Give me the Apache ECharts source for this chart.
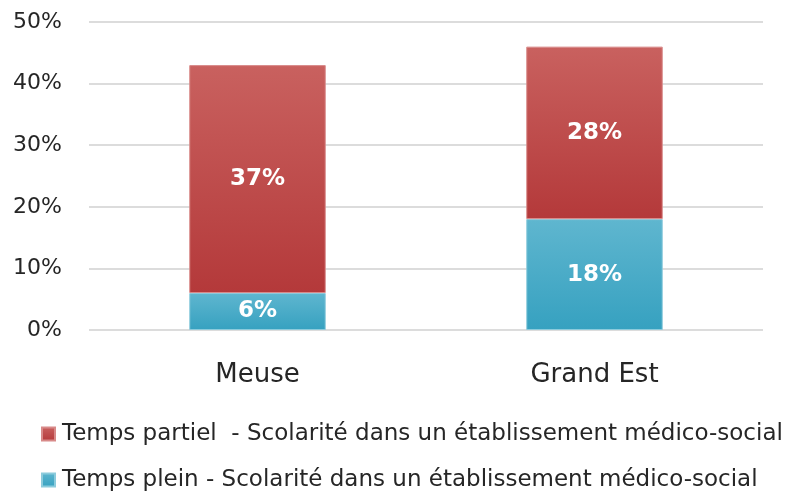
<!DOCTYPE html>
<html>
<head>
<meta charset="utf-8">
<script src="https://cdn.jsdelivr.net/npm/echarts@6/dist/echarts.min.js"></script>
<style>
html,body{margin:0;padding:0;background:#fff;}
#chart{width:792px;height:495px;}
</style>
</head>
<body>
<div id="chart"></div>
<script>
var categories = ['Meuse', 'Grand Est'];
var tempsPlein = [6, 18];
var tempsPartiel = [37, 28];
var nomPlein = 'Temps plein - Scolarité dans un établissement médico-social';
var nomPartiel = 'Temps partiel  - Scolarité dans un établissement médico-social';
var yTicks = [0, 10, 20, 30, 40, 50];

var police = 'DejaVu Sans';

function degrade(haut, bas) {
	return new echarts.graphic.LinearGradient(0, 0, 0, 1, [
		{offset: 0, color: haut},
		{offset: 1, color: bas}
	]);
}

var etiquette = {
	show: true,
	position: 'inside',
	color: '#fff',
	fontFamily: police,
	fontWeight: 'bold',
	fontSize: 23,
	formatter: '{c}%'
};

var option = {
	animation: false,
	backgroundColor: '#fff',
	grid: {left: 89, right: 29, top: 22, bottom: 165},
	legend: {
		orient: 'vertical',
		left: 41,
		top: 422,
		padding: 0,
		itemWidth: 13,
		itemHeight: 13,
		itemGap: 22,
		icon: 'rect',
		data: [nomPartiel, nomPlein],
		textStyle: {fontFamily: police, fontSize: 23, lineHeight: 24, color: '#262626', padding: [0, 0, 0, 2]}
	},
	xAxis: {
		type: 'category',
		data: categories,
		axisLine: {show: false},
		axisTick: {show: false},
		axisLabel: {fontFamily: police, fontSize: 26, color: '#262626', margin: 32}
	},
	yAxis: {
		type: 'value',
		min: yTicks[0],
		max: yTicks[yTicks.length - 1],
		interval: 10,
		axisLine: {show: false},
		axisTick: {show: false},
		axisLabel: {fontFamily: police, fontSize: 22, color: '#262626', margin: 27, formatter: '{value}%'},
		splitLine: {lineStyle: {color: '#dcdcdc', width: 2}}
	},
	series: [{
		name: nomPlein,
		type: 'bar',
		stack: 'total',
		barWidth: '40.5%',
		data: tempsPlein,
		itemStyle: {color: degrade('#5fb6cf', '#36a1c0'), borderColor: '#8ccbdc', borderWidth: 1},
		label: etiquette
	}, {
		name: nomPartiel,
		type: 'bar',
		stack: 'total',
		data: tempsPartiel,
		itemStyle: {color: degrade('#c9615f', '#b4393a'), borderColor: '#d88a89', borderWidth: 1},
		label: etiquette
	}]
};

var monGraphe = echarts.init(document.getElementById('chart'));
monGraphe.setOption(option);
</script>
</body>
</html>
